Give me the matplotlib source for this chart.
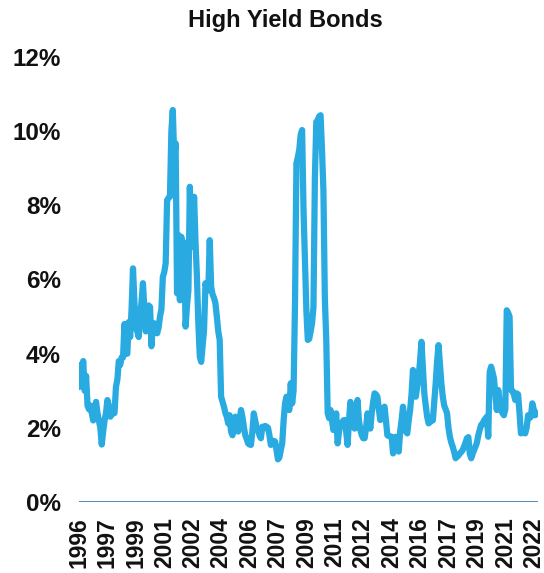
import numpy as np
import matplotlib
matplotlib.use("Agg")
import matplotlib.pyplot as plt
from matplotlib.ticker import FuncFormatter

# monthly readings, Jan 1996 onwards (%)
y1996 = [3.1, 3.7, 3.6, 3.8, 3.0, 3.4, 2.6, 2.5, 2.6, 2.4, 2.2, 2.5]
y1997 = [2.7, 2.4, 2.2, 2.0, 1.55, 1.9, 2.2, 2.4, 2.75, 2.6, 2.3, 2.35]
y1998 = [2.4, 2.4, 3.1, 3.3, 3.8, 3.7, 3.9, 3.9, 4.8, 4.0, 4.0, 4.85]
y1999 = [4.45, 5.2, 6.3, 5.4, 4.7, 4.6, 4.45, 5.0, 5.4, 5.9, 5.2, 4.6]
y2000 = [4.8, 5.3, 5.26, 4.2, 4.8, 4.82, 4.6, 4.55, 4.7, 5.0, 5.2, 6.07]
y2001 = [6.2, 6.44, 8.14, 8.2, 8.23, 10.0, 10.57, 9.3, 9.67, 5.63, 7.2, 5.44]
y2002 = [7.15, 5.6, 7.0, 4.73, 5.3, 5.71, 8.5, 6.88, 7.4, 8.23, 7.0, 6.07]
y2003 = [4.8, 3.92, 3.78, 4.2, 4.64, 5.9, 5.7, 5.71, 7.06, 5.8, 5.6, 5.5]
y2004 = [5.36, 5.0, 4.6, 4.37, 2.84, 2.7, 2.57, 2.4, 2.3, 2.12, 2.34, 1.9]
y2005 = [1.8, 2.0, 2.3, 2.1, 1.9, 2.2, 2.48, 2.3, 2.03, 1.8, 1.7, 1.58]
y2006 = [1.55, 1.54, 1.9, 2.39, 2.2, 2.0, 1.94, 1.8, 1.72, 2.03, 2.0, 2.05]
y2007 = [2.03, 2.0, 1.8, 1.54, 1.6, 1.65, 1.63, 1.4, 1.15, 1.2, 1.4, 1.58]
y2008 = [2.2, 2.66, 2.84, 2.6, 2.48, 3.2, 2.66, 3.0, 5.36, 9.13, 9.3, 9.5]
y2009 = [9.9, 10.03, 7.87, 6.5, 5.17, 4.37, 4.4, 4.6, 4.82, 5.26, 8.77, 10.25]
y2010 = [10.3, 10.4, 10.43, 9.5, 8.4, 5.5, 4.37, 2.4, 2.26, 2.48, 2.2, 1.94]
y2011 = [2.1, 2.39, 1.58, 1.9, 2.12, 2.1, 2.2, 2.21, 1.9, 1.54, 2.2, 2.7]
y2012 = [2.4, 2.03, 1.98, 2.3, 2.75, 2.2, 1.94, 1.8, 1.72, 1.72, 2.0, 2.39]
y2013 = [2.2, 1.98, 2.4, 2.7, 2.93, 2.9, 2.84, 2.5, 2.21, 2.4, 2.5, 2.57]
y2014 = [2.2, 1.8, 1.78, 1.77, 1.76, 1.31, 1.6, 1.76, 1.5, 1.36, 1.9, 2.2]
y2015 = [2.57, 2.2, 1.9, 1.85, 2.2, 2.48, 2.9, 3.56, 3.3, 2.84, 3.1, 3.38]
y2016 = [3.8, 4.32, 3.6, 2.93, 2.6, 2.3, 2.12, 2.15, 2.21, 2.2, 2.7, 3.2]
y2017 = [3.8, 4.23, 3.7, 3.2, 2.84, 2.6, 2.5, 2.39, 2.0, 1.76, 1.6, 1.49]
y2018 = [1.35, 1.18, 1.22, 1.25, 1.31, 1.35, 1.4, 1.5, 1.6, 1.72, 1.75, 1.3]
y2019 = [1.18, 1.3, 1.4, 1.49, 1.6, 1.8, 1.95, 2.08, 2.1, 2.2, 2.25, 2.3]
y2020 = [1.76, 3.5, 3.65, 3.5, 3.33, 2.9, 2.48, 3.02, 2.7, 2.48, 2.4, 2.34]
y2021 = [2.5, 5.17, 5.1, 5.0, 3.02, 3.0, 2.9, 2.75, 2.93, 2.9, 2.4, 1.85]
y2022 = [1.9, 1.94, 1.85, 2.0, 2.34, 2.26, 2.3, 2.66, 2.5, 2.34, 2.4, 2.39]

years = [y1996, y1997, y1998, y1999, y2000, y2001, y2002, y2003, y2004,
         y2005, y2006, y2007, y2008, y2009, y2010, y2011, y2012, y2013,
         y2014, y2015, y2016, y2017, y2018, y2019, y2020, y2021, y2022]
values = np.concatenate(years)

# one label every 20 months
tick_step = 20
tick_labels = ["1996", "1997", "1999", "2001", "2002", "2004", "2006", "2007",
               "2009", "2011", "2012", "2014", "2016", "2017", "2019", "2021",
               "2022"]

plt.rcParams["font.family"] = ["Liberation Sans", "DejaVu Sans"]

fig = plt.figure(figsize=(5.44, 5.73), dpi=100)
ax = fig.add_axes([79 / 544, 1 - 502 / 573, (538 - 79) / 544, (502 - 57) / 573])

x = np.arange(len(values))
ax.plot(x, values, color="#29ABE2", lw=4.5, solid_joinstyle="round",
        solid_capstyle="round", zorder=3)
ax.axhline(0, color="#1F66A3", lw=1.8, zorder=2)

ax.set_xlim(0, len(values) - 1)
ax.set_ylim(0, 12)
ax.set_yticks(range(0, 13, 2))
ax.yaxis.set_major_formatter(FuncFormatter(lambda v, p: f"{v:.0f}%"))
ax.set_xticks(np.arange(0, len(values), tick_step)[:len(tick_labels)])
ax.set_xticklabels(tick_labels, rotation=90)

for s in ax.spines.values():
    s.set_visible(False)
ax.tick_params(axis="y", length=0, pad=13, labelsize=17.5, labelcolor="#111111")
ax.tick_params(axis="x", length=0, pad=11, labelsize=16.5, labelcolor="#111111")
for lbl in ax.get_xticklabels() + ax.get_yticklabels():
    lbl.set_fontweight("bold")

fig.text(285 / 544, 1 - 20 / 573, "High Yield Bonds", ha="center", va="center",
         fontsize=17, fontweight="bold", color="#111111")

fig.savefig("out.png", dpi=100, facecolor="white")
